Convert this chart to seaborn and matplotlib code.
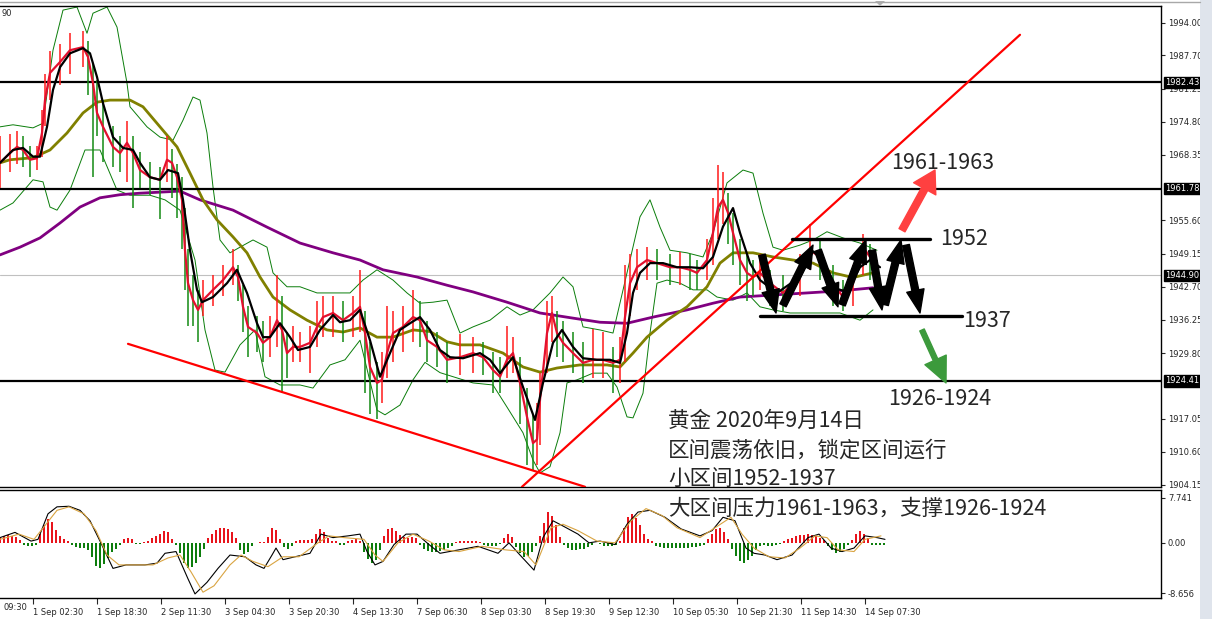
import numpy as np
import matplotlib
matplotlib.use("Agg")
import matplotlib.pyplot as plt
import matplotlib.transforms as mtransforms
from matplotlib.patches import Rectangle, Polygon
from matplotlib.lines import Line2D
import seaborn as sns

sns.set_style("white")
plt.rcParams['font.family'] = ['Noto Sans CJK SC', 'DejaVu Sans']

# time axis: one step = 15 min of trading time (one M30 bar = 2 steps)
tick_t = [33, 97, 161, 225, 289, 353, 417, 481, 545, 609, 673, 737, 801, 865]
tick_labels = ['1 Sep 02:30', '1 Sep 18:30', '2 Sep 11:30', '3 Sep 04:30', '3 Sep 20:30',
               '4 Sep 13:30', '7 Sep 06:30', '8 Sep 03:30', '8 Sep 19:30', '9 Sep 12:30',
               '10 Sep 05:30', '10 Sep 21:30', '11 Sep 14:30', '14 Sep 07:30']

# right scale (1961.90 and 1923.35 sit under the level boxes)
price_ticks = [1994.00, 1987.70, 1981.25, 1974.80, 1968.35, 1955.60, 1949.15,
               1942.70, 1936.25, 1929.80, 1917.05, 1910.60, 1904.15]

# bars
bar_t = [0, 10, 17, 23, 30, 37, 42, 45, 50, 60, 70, 83, 88, 93, 97, 103, 113, 120, 127, 133,
         140, 150, 160, 167, 172, 177, 182, 185, 188, 193, 198, 203, 213, 223, 233, 238, 243, 248,
         257, 263, 270, 277, 282, 287, 293, 300, 310, 317, 323, 333, 343, 353, 360, 365, 370, 377,
         382, 387, 393, 403, 413, 420, 427, 437, 447, 460, 473, 483, 493, 500, 507, 513, 520, 527,
         533, 537, 540, 547, 552, 557, 563, 573, 583, 593, 603, 613, 620, 625, 630, 637, 647, 657,
         670, 680, 690, 697, 707, 713, 718, 723, 728, 733, 740, 747, 753, 760, 770, 783, 800, 810,
         820, 833, 843, 853, 863, 870, 877]
bar_close = [1966.8, 1968.7, 1969.9, 1969.3, 1967.4, 1967.7, 1972.6, 1979.0, 1984.3, 1986.4,
             1988.7, 1989.3, 1987.4, 1982.3, 1976.5, 1973.8, 1969.9, 1968.7, 1970.7, 1968.7,
             1965.4, 1964.0, 1963.5, 1967.4, 1966.8, 1964.0, 1959.6, 1949.8, 1943.4, 1940.1,
             1938.2, 1940.1, 1942.1, 1944.0, 1946.5, 1944.6, 1938.8, 1934.9, 1933.7, 1931.8,
             1932.9, 1936.2, 1934.3, 1929.8, 1931.0, 1931.0, 1931.8, 1934.9, 1936.8, 1937.6,
             1936.2, 1937.6, 1938.8, 1933.7, 1927.1, 1924.0, 1924.6, 1929.8, 1933.7, 1934.9,
             1936.8, 1936.2, 1932.3, 1931.0, 1928.5, 1929.0, 1929.8, 1929.0, 1926.5, 1925.2,
             1928.5, 1929.8, 1924.0, 1917.4, 1912.3, 1913.0, 1920.7, 1933.7, 1937.6, 1933.7,
             1931.8, 1929.8, 1927.9, 1928.5, 1928.5, 1927.9, 1928.5, 1936.8, 1943.4, 1946.5,
             1947.9, 1947.3, 1946.5, 1946.5, 1946.0, 1945.4, 1947.9, 1953.2, 1958.2, 1959.6,
             1957.1, 1953.2, 1947.9, 1945.4, 1944.6, 1945.4, 1943.4, 1941.5, 1944.6, 1949.8,
             1948.5, 1943.4, 1940.7, 1943.4, 1950.4, 1948.5, 1945.4]
bar_high = [1972, 1972.5, 1973, 1972, 1970, 1970, 1977, 1984, 1988.5, 1990,
            1992, 1992.5, 1990.5, 1986, 1983, 1979, 1974, 1972, 1975, 1972,
            1969, 1967, 1966, 1972, 1969.5, 1966.5, 1964, 1958, 1950, 1945,
            1942, 1944, 1945, 1947, 1950, 1947, 1943, 1939, 1937, 1936,
            1937, 1945, 1941, 1934, 1935, 1934, 1935, 1940, 1941, 1941,
            1940, 1941, 1946, 1938, 1932, 1928, 1930, 1939, 1938, 1939,
            1942, 1940, 1936, 1934, 1932, 1933.5, 1933, 1932, 1930, 1929,
            1935, 1933, 1929, 1923, 1918, 1920, 1926, 1940, 1941, 1938,
            1936, 1934, 1932, 1934.5, 1934, 1931, 1933, 1947, 1949, 1950,
            1950.5, 1950, 1949, 1949.5, 1949, 1948, 1952, 1960, 1966.3, 1965,
            1961, 1957, 1952, 1949, 1948, 1949, 1946, 1945, 1949, 1955,
            1952, 1947, 1944, 1947, 1953, 1951, 1948]
bar_low = [1962, 1965, 1966.5, 1966, 1964, 1965.5, 1968, 1974, 1979, 1982,
           1984, 1985.5, 1980, 1964, 1972, 1967, 1966, 1965, 1963, 1958,
           1962, 1960.5, 1955.8, 1963, 1960, 1956, 1950, 1942, 1935, 1935,
           1932, 1937, 1939, 1941, 1943, 1940, 1934, 1929, 1930, 1928,
           1929, 1931, 1922, 1925, 1928, 1928, 1926, 1931, 1933, 1933,
           1932, 1933, 1934, 1922, 1918, 1917, 1920, 1925, 1928, 1930,
           1932, 1931, 1928, 1927, 1924, 1925.5, 1926, 1925.5, 1922, 1922,
           1925, 1926, 1916, 1908, 1907, 1908, 1912, 1926, 1932, 1929,
           1928, 1926, 1924, 1925, 1925, 1922, 1924, 1928, 1937, 1942,
           1944, 1944, 1943, 1943, 1942, 1942, 1944, 1947, 1952, 1955,
           1951, 1947, 1943, 1940, 1941, 1942, 1939, 1938, 1941, 1946,
           1944, 1939, 1938, 1939, 1945, 1944, 1943]

# fast MA (black)
fast_t = [0, 13, 23, 33, 40, 47, 53, 60, 70, 83, 90, 97, 103, 113, 123, 133, 140, 150, 160, 168,
          178, 183, 190, 197, 202, 213, 227, 237, 247, 257, 263, 270, 280, 290, 298, 310, 320, 333,
          340, 350, 360, 370, 380, 390, 400, 410, 420, 430, 440, 450, 463, 480, 490, 500, 513, 523,
          535, 543, 553, 562, 573, 583, 597, 610, 620, 627, 633, 640, 650, 663, 677, 690, 703, 713,
          723, 733, 740, 750, 760, 777, 800, 813, 823, 837, 847, 860, 870, 880]
fast_ma = [1966.8, 1969.3, 1969.7, 1968.0, 1968.0, 1973.8, 1981.0, 1985.4, 1988.1, 1989.1,
           1988.1, 1983.5, 1978.4, 1971.8, 1969.7, 1969.3, 1966.8, 1964.0, 1963.5, 1965.4,
           1964.8, 1959.6, 1949.8, 1942.1, 1939.7, 1940.7, 1943.4, 1946.0, 1941.5, 1935.6,
           1932.9, 1932.9, 1935.6, 1932.9, 1930.4, 1931.0, 1934.3, 1937.2, 1935.8, 1936.2,
           1938.2, 1932.3, 1925.2, 1929.8, 1934.3, 1935.6, 1936.8, 1934.3, 1930.4, 1929.0,
           1928.8, 1929.8, 1928.5, 1925.9, 1929.0, 1923.2, 1916.8, 1924.0, 1931.8, 1934.3,
           1931.0, 1928.8, 1928.5, 1928.5, 1927.9, 1933.7, 1941.5, 1945.4, 1947.3, 1947.3,
           1946.5, 1946.5, 1946.3, 1948.5, 1954.4, 1958.0, 1953.2, 1947.3, 1944.0, 1941.5,
           1944.6, 1949.6, 1947.9, 1942.3, 1941.7, 1946.5, 1947.9, 1946.5]

# medium MA (olive)
mid_t = [0, 10, 33, 50, 67, 83, 97, 110, 130, 143, 160, 177, 190, 203, 217, 233, 247, 260, 273,
         290, 307, 327, 343, 360, 377, 393, 413, 430, 447, 460, 480, 503, 523, 540, 557, 580, 607,
         620, 633, 647, 667, 687, 707, 720, 733, 753, 773, 793, 813, 833, 853, 873]
mid_ma = [1966.8, 1967.4, 1967.8, 1969.3, 1972.6, 1976.5, 1978.6, 1979.0, 1979.0, 1977.7,
          1973.8, 1969.9, 1964.8, 1959.6, 1955.7, 1952.4, 1949.3, 1944.6, 1940.7, 1938.2,
          1936.2, 1934.3, 1933.9, 1934.7, 1932.9, 1932.9, 1934.3, 1934.0, 1932.0, 1931.4,
          1931.4, 1929.8, 1927.1, 1926.1, 1926.9, 1927.5, 1927.5, 1927.1, 1929.8, 1932.9,
          1936.2, 1938.8, 1942.7, 1947.3, 1949.3, 1949.3, 1948.5, 1947.9, 1947.3, 1945.4,
          1944.5, 1945.4]

# slow MA (purple)
slow_t = [0, 20, 40, 60, 80, 100, 120, 140, 160, 180, 200, 233, 267, 300, 333, 360, 383, 417,
          447, 473, 507, 540, 573, 600, 627, 653, 687, 713, 740, 773, 807, 840, 873]
slow_ma = [1948.9, 1950.4, 1952.2, 1955.1, 1958.2, 1960.0, 1960.6, 1960.9, 1961.1, 1961.3,
           1959.6, 1957.6, 1954.3, 1951.2, 1949.3, 1947.9, 1946.0, 1944.6, 1943.0, 1941.7,
           1939.7, 1937.6, 1936.6, 1935.8, 1935.6, 1936.8, 1938.2, 1939.5, 1940.7, 1941.1,
           1941.5, 1941.9, 1942.5]

# Bollinger bands (thin green)
upper_t = [0, 13, 33, 43, 53, 63, 77, 87, 93, 107, 117, 127, 130, 147, 160, 173, 183, 193, 200,
           207, 213, 220, 230, 240, 253, 267, 273, 287, 300, 317, 333, 350, 363, 377, 393, 407,
           420, 433, 447, 460, 473, 490, 507, 520, 533, 550, 563, 573, 583, 600, 613, 627, 640,
           650, 660, 670, 687, 703, 713, 727, 743, 753, 763, 773, 783, 800, 813, 827, 843, 860, 877]
upper_band = [1973.8, 1974.2, 1973.6, 1974.5, 1988.7, 1996.5, 1997.1, 1992.0, 1995.9, 1997.1,
              1993.2, 1982.3, 1977.7, 1973.8, 1971.8, 1971.2, 1975.1, 1979.6, 1979.0, 1972.6,
              1962.1, 1951.8, 1949.3, 1950.4, 1951.8, 1950.4, 1945.4, 1942.7, 1942.7, 1941.5,
              1941.5, 1941.5, 1944.0, 1946.0, 1944.0, 1941.5, 1939.5, 1939.7, 1940.1, 1933.7,
              1934.9, 1936.2, 1938.8, 1937.2, 1938.2, 1941.5, 1944.6, 1942.7, 1934.9, 1934.3,
              1933.7, 1945.4, 1956.3, 1959.6, 1954.3, 1949.8, 1949.3, 1948.5, 1953.2, 1962.9,
              1965.4, 1964.8, 1957.0, 1950.4, 1949.8, 1950.8, 1951.8, 1953.4, 1952.2, 1951.2,
              1949.8]
lower_t = [0, 13, 33, 43, 50, 57, 70, 85, 100, 117, 130, 150, 165, 180, 195, 205, 215, 225, 240,
           255, 265, 280, 300, 313, 330, 345, 360, 377, 385, 400, 413, 425, 440, 473, 493, 507,
           523, 533, 540, 550, 560, 567, 577, 593, 607, 617, 627, 633, 643, 650, 657, 667, 680,
           693, 707, 717, 733, 747, 760, 773, 790, 807, 840, 860, 873]
lower_band = [1957.6, 1959.0, 1963.5, 1963.1, 1958.2, 1957.6, 1961.5, 1969.3, 1969.3, 1961.5,
              1960.5, 1960.5, 1959.6, 1957.6, 1947.9, 1934.3, 1926.5, 1926.1, 1931.4, 1934.3,
              1925.2, 1923.6, 1923.6, 1923.0, 1927.5, 1928.5, 1932.3, 1918.7, 1917.8, 1919.7,
              1924.6, 1928.0, 1926.0, 1924.0, 1923.6, 1919.3, 1914.3, 1909.0, 1906.5, 1907.7,
              1914.3, 1924.0, 1924.6, 1925.9, 1925.9, 1923.2, 1917.4, 1917.2, 1922.0, 1933.7,
              1943.4, 1944.0, 1943.4, 1942.1, 1942.1, 1940.7, 1940.1, 1941.5, 1938.8, 1938.2,
              1937.6, 1937.6, 1937.6, 1936.2, 1938.2]

# horizontal levels
levels = [1982.43, 1961.78, 1924.41]
level_labels = ['1982.43', '1961.78', '1924.41']
bid_price = 1944.90

# trend lines (start, end)
rise_line = [(522, 1903.8), (1020, 1991.7)]
fall_line = [(128, 1931.6), (585, 1903.8)]

# range of the forecast
range_top = 1952.0
range_bottom = 1937.0
range_top_span = (792, 930)
range_bottom_span = (760, 962)

zigzag = [((762, 1948.9), (776, 1937.6)), ((783, 1939.1), (813, 1950.8)),
          ((818, 1949.8), (838, 1938.8)), ((842, 1939.2), (866, 1951.8)),
          ((872, 1949.8), (882, 1938.2)), ((885, 1939.2), (901, 1951.8)),
          ((906, 1950.8), (920, 1937.6))]
up_arrow = ((902, 1953.7), (935, 1965.4))
down_arrow = ((922, 1934.3), (946, 1924.0))

notes = ['黄金 2020年9月14日', '区间震荡依旧，锁定区间运行', '小区间1952-1937',
         '大区间压力1961-1963，支撑1926-1924']

# oscillator (MACD-like) histogram, one value per 2 bars
hist_vals = [0.8, 1.1, 1.3, 1.2, 1.0, 0.5,
             -0.3, -0.6, -0.6, -0.3,
             1.5, 3.0, 4.1, 3.6, 2.2,
             1.2, 0.6, 0.3,
             -0.4, -0.8, -0.9, -0.9, -1.2,
             -2.5, -4.0, -4.4, -3.6, -2.6, -1.6,
             -1.0, -0.3,
             0.6, 0.9, 0.6,
             -0.2, -0.2, 0.1, 0.3,
             0.8, 1.2, 1.6, 2.0, 1.8, 0.6,
             -0.3, -1.8, -3.5, -4.4, -4.2, -3.4, -2.4, -1.0,
             0.8, 1.6, 2.2, 2.5, 2.6, 2.4, 1.8, 0.8,
             -1.2, -2.0, -1.6, -0.6,
             -0.1, 0.1, 0.2,
             1.0, 2.6, 2.2, 0.6,
             -0.8, -1.0, -0.5,
             0.3, 0.5, 0.5, 0.5, 0.6,
             1.5, 2.4, 1.8, 0.9,
             0.3, 0.3, -0.3, -0.4,
             0.4, 0.5, 0.6, 0.3,
             -1.5, -2.8, -3.5, -3.0, -1.2,
             1.2, 2.3, 2.6, 2.0, 1.3,
             1.0, 0.9, 1.0, 0.8,
             -0.4, -1.0, -1.4, -1.5, -1.5, -1.4, -1.2, -0.9, -0.5,
             0.2, 0.3, 0.4, 0.4, 0.4, 0.3, 0.2,
             -0.3, -0.5, -0.6, -0.5, -0.2,
             0.9, 1.5, 1.0,
             -0.8, -1.8, -2.4, -2.2, -1.6, -0.6,
             1.2, 3.5, 5.3, 4.6, 3.0, 1.0,
             -0.4, -0.9, -1.2, -1.2, -1.1, -1.0, -0.8, -0.4, -0.1,
             -0.2, -0.5, -0.6, -0.5, -0.3, 0.4,
             2.5, 4.5, 5.0, 4.2, 3.0, 1.5,
             0.7, 0.4,
             -0.5, -0.8, -0.9, -0.9, -0.9, -0.9, -0.9, -0.9, -0.9, -0.8, -0.8, -0.6, -0.3,
             0.6, 1.6, 2.4, 2.6, 1.8, 0.6,
             -1.0, -2.2, -3.2, -3.5, -3.0, -2.2, -1.2, -0.6,
             -0.4, -0.5, -0.5, -0.4, -0.2,
             0.3, 0.6, 0.9, 1.1, 1.3, 1.4, 1.5, 1.4, 1.2, 0.9, 0.5,
             -0.6, -1.2, -1.8, -1.6, -1.0, -0.4,
             0.5, 1.5, 2.1, 1.6, 0.8,
             -0.3, -0.4, -0.4, -0.3]

macd_t = [0, 15, 31, 38, 48, 57, 69, 80, 90, 100, 113, 126, 145, 157, 165, 176, 188, 195, 207,
          218, 230, 245, 256, 264, 272, 276, 283, 295, 310, 321, 333, 348, 360, 367, 375, 383,
          394, 406, 417, 429, 440, 459, 478, 498, 509, 520, 534, 543, 553, 563, 578, 589, 600,
          615, 627, 638, 650, 665, 681, 700, 712, 723, 735, 746, 754, 765, 777, 792, 808, 819,
          831, 842, 854, 865, 877, 885]
macd_line = [0.9, 1.8, 0.3, 0.6, 5.0, 6.2, 6.3, 5.6, 3.8, 0.3, -4.4, -3.8, -3.8, -3.5, -1.8,
             -1.5, -6.2, -8.8, -6.8, -4.4, -2.1, -2.4, -3.8, -4.4, -2.1, -0.9, -2.9, -2.4, -1.8,
             1.5, 0.9, 1.2, 1.5, -1.5, -3.8, -3.2, -0.3, 1.5, 1.5, -0.3, -1.8, -1.2, -0.6, -1.8,
             0.0, -2.1, -4.7, 0.9, 3.8, 2.9, 1.5, 0.0, 0.3, -0.3, 3.2, 5.3, 5.6, 4.4, 2.4, 1.2,
             2.1, 4.4, 3.8, -0.9, -1.8, -2.1, -2.9, -2.1, 0.9, 1.5, -0.9, -1.5, -0.9, 1.2, 0.9, 0.6]
signal_t = [0, 19, 34, 46, 57, 69, 84, 96, 107, 119, 134, 153, 168, 180, 191, 203, 214, 230,
            241, 253, 268, 283, 299, 318, 329, 344, 364, 375, 383, 398, 413, 429, 444, 459, 482,
            505, 524, 536, 551, 563, 578, 597, 615, 631, 646, 662, 677, 700, 715, 731, 742, 754,
            769, 785, 800, 815, 827, 838, 854, 865, 881]
signal_line = [0.6, 1.5, 0.6, 3.2, 5.6, 6.2, 5.0, 2.1, -2.1, -3.8, -3.8, -3.8, -2.6, -2.1, -5.0,
               -8.5, -7.4, -3.8, -2.1, -3.2, -4.1, -2.4, -2.4, 0.0, 1.2, 0.9, 0.6, -2.1, -3.2,
               0.0, 1.5, 0.3, -1.2, -1.5, -0.6, -1.2, -1.5, -3.8, 2.6, 3.2, 2.1, 0.3, 0.0, 3.8,
               5.9, 4.7, 2.6, 0.9, 2.6, 4.4, 1.5, -0.9, -2.4, -2.6, -0.9, 1.2, 0.9, -1.2, -1.5,
               0.6, 1.2]
osc_ticks = [7.741, 0.0, -8.656]
osc_labels = ['7.741', '0.00', '-8.656']

W, H = 1212, 619
fig = plt.figure(figsize=(W / 100, H / 100), dpi=100)
fig.patch.set_facecolor('white')
ax = fig.add_axes([0, 1 - 487 / H, 1161 / W, (487 - 6) / H])
ax2 = fig.add_axes([0, 1 - 598 / H, 1161 / W, (598 - 490) / H])

# ---- main price panel
sns.lineplot(x=upper_t, y=upper_band, ax=ax, color='#0a7d0a', lw=0.7, estimator=None, sort=False, zorder=2)
sns.lineplot(x=lower_t, y=lower_band, ax=ax, color='#0a7d0a', lw=0.7, estimator=None, sort=False, zorder=2)
sns.lineplot(x=slow_t, y=slow_ma, ax=ax, color='#800080', lw=2.0, estimator=None, sort=False, zorder=3)
sns.lineplot(x=mid_t, y=mid_ma, ax=ax, color='#808000', lw=2.0, estimator=None, sort=False, zorder=3)

bar_colors = ['#ff1a1a' if i == 0 or bar_close[i] >= bar_close[i - 1] else '#138a13'
              for i in range(len(bar_close))]
ax.vlines(bar_t, bar_low, bar_high, colors=bar_colors, lw=1.1, zorder=4)
sns.lineplot(x=bar_t, y=bar_close, ax=ax, color='#e3102e', lw=1.6, estimator=None, sort=False, zorder=5)
sns.lineplot(x=fast_t, y=fast_ma, ax=ax, color='black', lw=1.6, estimator=None, sort=False, zorder=6)

for lv in levels:
    ax.axhline(lv, color='black', lw=1.6, zorder=3)
ax.axhline(bid_price, color='#c0c0c0', lw=0.8, zorder=1)

for seg in (rise_line, fall_line):
    ax.plot([seg[0][0], seg[1][0]], [seg[0][1], seg[1][1]], color='#ff0000', lw=1.6, zorder=7)

ax.plot(range_top_span, [range_top, range_top], color='black', lw=2.4, zorder=7)
ax.plot(range_bottom_span, [range_bottom, range_bottom], color='black', lw=2.4, zorder=7)

for tail, tip in zigzag:
    ax.annotate('', xy=tip, xytext=tail, zorder=8,
                arrowprops=dict(arrowstyle='simple,head_length=1.5,head_width=1.15,tail_width=0.45',
                                color='black', mutation_scale=11, shrinkA=0, shrinkB=0))
ax.annotate('', xy=up_arrow[1], xytext=up_arrow[0], zorder=8,
            arrowprops=dict(arrowstyle='simple,head_length=1.1,head_width=1.3,tail_width=0.35',
                            color='#ff4040', mutation_scale=14, shrinkA=0, shrinkB=0))
ax.annotate('', xy=down_arrow[1], xytext=down_arrow[0], zorder=8,
            arrowprops=dict(arrowstyle='simple,head_length=1.3,head_width=1.2,tail_width=0.25',
                            color='#3c9a3c', mutation_scale=14, shrinkA=0, shrinkB=0))

ax.text(891, 1966.8, '1961-1963', fontsize=15.5, va='center', ha='left', zorder=9)
ax.text(940, 1952.0, '1952', fontsize=15.5, va='center', ha='left', zorder=9)
ax.text(963, 1936.0, '1937', fontsize=15.5, va='center', ha='left', zorder=9)
ax.text(888, 1920.9, '1926-1924', fontsize=15.5, va='center', ha='left', zorder=9)

ax.set_xlim(0, 1161)
ax.set_ylim(1903.76, 1997.3)
ax.yaxis.tick_right()
ax.set_yticks(price_ticks)
ax.set_yticklabels([f'{v:.2f}' for v in price_ticks], family='DejaVu Sans')
ax.tick_params(axis='y', which='both', right=True, left=False, length=3, width=0.8,
               labelsize=6, pad=2, direction='out')
ax.set_xticks([])
ax.set_xlabel('')
ax.set_ylabel('')
for side in ('top', 'right', 'bottom'):
    ax.spines[side].set_visible(True)
    ax.spines[side].set_color('black')
    ax.spines[side].set_linewidth(1.0)
ax.spines['left'].set_visible(False)

trans = mtransforms.blended_transform_factory(ax.transAxes, ax.transData)
for lv, lab in zip(levels + [bid_price], level_labels + ['1944.90']):
    ax.text(1.0035, lv, lab, transform=trans, fontsize=6, color='white', va='center', ha='left',
            family='DejaVu Sans', clip_on=False, zorder=10,
            bbox=dict(boxstyle='square,pad=0.15', fc='black', ec='black'))

# ---- oscillator panel
hist_t = np.arange(len(hist_vals)) * 4
hist_colors = ['#e8141c' if v >= 0 else '#0c7d0c' for v in hist_vals]
ax2.bar(hist_t, hist_vals, width=1.4, color=hist_colors, linewidth=0, zorder=2)
sns.lineplot(x=macd_t, y=macd_line, ax=ax2, color='black', lw=0.8, estimator=None, sort=False, zorder=3)
sns.lineplot(x=signal_t, y=signal_line, ax=ax2, color='#d9a441', lw=0.8, estimator=None, sort=False, zorder=3)
ax2.set_xlim(0, 1161)
ax2.set_ylim(-9.5, 9.1)
ax2.yaxis.tick_right()
ax2.set_yticks(osc_ticks)
ax2.set_yticklabels(osc_labels, family='DejaVu Sans')
ax2.tick_params(axis='y', right=True, left=False, length=3, width=0.8, labelsize=6, pad=2)
ax2.set_xticks(tick_t)
ax2.set_xticklabels(tick_labels, family='DejaVu Sans', ha='left')
ax2.tick_params(axis='x', bottom=True, length=4, width=0.8, labelsize=6, pad=3, direction='out')
ax2.set_xlabel('')
ax2.set_ylabel('')
for side in ('top', 'right', 'bottom'):
    ax2.spines[side].set_visible(True)
    ax2.spines[side].set_color('black')
    ax2.spines[side].set_linewidth(1.0)
ax2.spines['left'].set_visible(False)

# notes
for i, line in enumerate(notes):
    fig.text(668 / W, 1 - (421 + 29.2 * i) / H, line, fontsize=15.5, va='center', ha='left', zorder=20)

# frame details
fig.text(3 / W, 1 - 608 / H, '09:30', fontsize=6, family='DejaVu Sans', va='center', ha='left')
fig.text(1 / W, 1 - 13 / H, '90', fontsize=6, family='DejaVu Sans', va='center', ha='left')
fig.lines.append(Line2D([0, 1200 / W], [1 - 1.5 / H, 1 - 1.5 / H], transform=fig.transFigure,
                        color='#a8a8a8', lw=1.0))
fig.patches.append(Polygon([[875 / W, 1 - 1 / H], [885 / W, 1 - 1 / H], [880 / W, 1 - 6 / H]],
                           closed=True, transform=fig.transFigure, fc='#b0b0b0', ec='none'))
fig.patches.append(Rectangle((1200 / W, 0), 12 / W, 1, transform=fig.transFigure,
                             fc='#dfe4ec', ec='none'))

fig.savefig('out.png', dpi=100)
